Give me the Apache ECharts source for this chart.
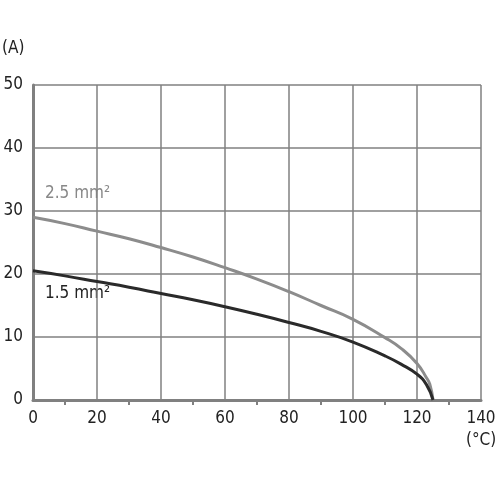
<!DOCTYPE html>
<html><head><meta charset="utf-8">
<script src="https://cdn.jsdelivr.net/npm/echarts@6/dist/echarts.min.js"></script>
<style>body{margin:0}#c{width:500px;height:500px}</style></head>
<body><div id="c"></div>
<script>
const temps25 = [0,10,20,30,40,50,60,70,80,90,100,110,115,120,123,124,125];
const amps25  = [29,28,26.8,25.6,24.2,22.7,21,19.2,17.2,15,12.8,9.9,8.2,5.8,3.5,2.5,0];
const temps15 = [0,10,20,30,40,50,60,70,80,90,100,110,115,120,123,125];
const amps15  = [20.5,19.7,18.8,17.9,16.9,15.9,14.8,13.6,12.3,10.9,9.2,7,5.7,4.1,2.4,0];
const F = '"Liberation Sans Narrow","DejaVu Sans Condensed",sans-serif';
const chart = echarts.init(document.getElementById('c'));
const ax = (min,max,interval,inside)=>({
  type:'value',min,max,interval,
  axisLine:{show:true,lineStyle:{color:'#808080',width:3}},
  axisTick:{show:false},
  minorTick:{show:true,splitNumber:2,length:5,lineStyle:{color:'#808080',width:2}},
  splitLine:{show:true,lineStyle:{color:'#808080',width:1.5}},
  axisLabel:{color:'#222',fontFamily:F,fontSize:17,margin:10}
});
const xa = ax(0,140,20); const ya = ax(0,50,10);
ya.minorTick.show=false;
chart.setOption({
  animation:false,
  grid:{left:33,right:19,top:85,bottom:100},
  xAxis:xa, yAxis:ya,
  graphic:[
    {type:'text',left:2,top:40,style:{text:'(A)',font:'17px '+F,fill:'#222'}},
    {type:'text',left:466,top:432,style:{text:'(°C)',font:'17px '+F,fill:'#222'}},
    {type:'text',left:45,top:185,style:{text:'2.5 mm²',font:'17px '+F,fill:'#888'}},
    {type:'text',left:45,top:285,style:{text:'1.5 mm²',font:'17px '+F,fill:'#222'}}
  ],
  series:[
    {type:'line',smooth:true,showSymbol:false,data:temps25.map((t,i)=>[t,amps25[i]]),lineStyle:{color:'#8c8c8c',width:3}},
    {type:'line',smooth:true,showSymbol:false,data:temps15.map((t,i)=>[t,amps15[i]]),lineStyle:{color:'#2a2a2a',width:3}}
  ]
});
</script></body></html>
